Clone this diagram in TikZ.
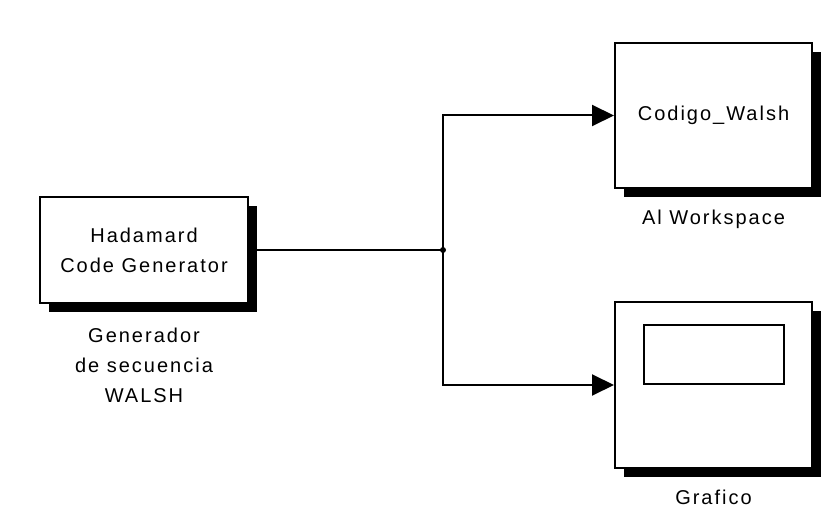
\documentclass[tikz,border=0pt]{standalone}
\usepackage{fontspec}
\newfontfamily\simfont[LetterSpace=10]{Liberation Sans}
\usetikzlibrary{positioning, calc, shadows}
\usetikzlibrary{arrows.meta}

\begin{document}
\begin{tikzpicture}[x=1pt, y=-1pt,
  block/.style={draw, line width=2pt, fill=white, inner sep=0pt,
    general shadow={fill=black, shadow xshift=9pt, shadow yshift=-9pt}},
  lbl/.style={inner sep=0pt, align=center, font=\simfont\fontsize{20}{30}\selectfont},
  wire/.style={line width=2pt},
  sig/.style={wire, -{Triangle[length=22pt, width=21pt]}}]
\useasboundingbox (0,0) rectangle (828,513);

% blocks
\node[block, lbl, minimum width=208pt, minimum height=106pt] (hada) at (144,250)
  {Hadamard\\Code Generator};
\node[block, lbl, minimum width=197pt, minimum height=145pt] (ws) at (713.5,115.5)
  {Codigo\_Walsh};
\node[block, minimum width=197pt, minimum height=166pt] (scope) at (713.5,385) {};
\draw[wire] ($(scope.north west)+(30,24)$) rectangle ($(scope.north east)+(-29,83)$);

% names under the blocks
\node[lbl, below=24pt of hada] (hadaname) {Generador\\de secuencia\\WALSH};
\node[lbl, below=21pt of ws] (wsname) {Al Workspace};
\node[lbl, below=21pt of scope] (scopename) {Grafico};

% signal lines
\coordinate (split) at (443,250);
\draw[wire] (hada.east) -- (split);
\draw[sig] (split) |- (ws.west);
\draw[sig] (split) |- (scope.west);
\fill (split) circle (3pt);

\end{tikzpicture}
\end{document}
